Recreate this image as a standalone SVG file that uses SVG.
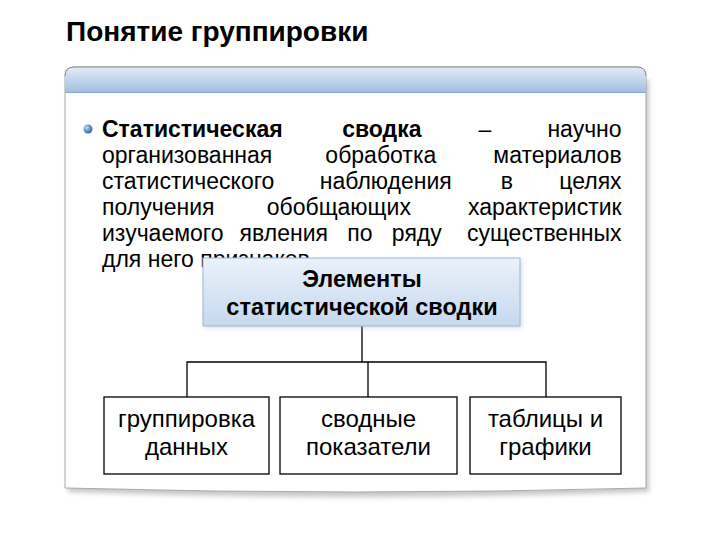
<svg xmlns="http://www.w3.org/2000/svg" width="720" height="540" viewBox="0 0 720 540">
<defs>
<linearGradient id="hdr" x1="0" y1="0" x2="0" y2="1">
<stop offset="0" stop-color="#e2ebf6"/>
<stop offset="0.6" stop-color="#bcd1ea"/>
<stop offset="1" stop-color="#a3bfe0"/>
</linearGradient>
<linearGradient id="boxfill" x1="0" y1="0" x2="0" y2="1">
<stop offset="0" stop-color="#eaf1fa"/>
<stop offset="1" stop-color="#c6d8ee"/>
</linearGradient>
<radialGradient id="ball" cx="0.35" cy="0.35" r="0.7">
<stop offset="0" stop-color="#c9dcf2"/>
<stop offset="0.5" stop-color="#6d98cc"/>
<stop offset="1" stop-color="#2f5f9c"/>
</radialGradient>
<filter id="blur" x="-5%" y="-5%" width="110%" height="120%">
<feGaussianBlur stdDeviation="2.5"/>
</filter>
<clipPath id="panelClip">
<path d="M65,76 Q65,67 74,67 L637,67 Q646,67 646,76 L646,488 Q355,496 65,488 Z"/>
</clipPath>
</defs>
<style>
.title{font-family:"Liberation Sans",Arial,sans-serif;font-weight:bold;font-size:28px;fill:#000}
.body{font-family:"Liberation Sans",Arial,sans-serif;font-size:23px;fill:#000}
.b{font-weight:bold}
.hd{font-family:"Liberation Sans",Arial,sans-serif;font-weight:bold;font-size:23.5px;fill:#000;text-anchor:middle}
.lbl{font-family:"Liberation Sans",Arial,sans-serif;font-size:24px;fill:#000;text-anchor:middle}
.m{text-anchor:middle}
.e{text-anchor:end}
.node{fill:#fff;stroke:#000;stroke-width:1.3}
.conn{fill:none;stroke:#000;stroke-width:1.3}
</style>
<rect width="720" height="540" fill="#fff"/>
<text class="title" x="66" y="41">Понятие группировки</text>

<g id="panel">
<path d="M68,80 L649,80 L649,492 Q357,502 68,492 Z" fill="#9a9a9a" opacity="0.55" filter="url(#blur)"/>
<path d="M65,76 Q65,67 74,67 L637,67 Q646,67 646,76 L646,488 Q355,496 65,488 Z" fill="#fff" stroke="#a8a8a8" stroke-width="1"/>
<rect x="65" y="67" width="581" height="25" fill="url(#hdr)" clip-path="url(#panelClip)"/>
<line x1="65" y1="92.5" x2="646" y2="92.5" stroke="#8aa7cc" stroke-width="1"/>
<path d="M65,76 Q65,67 74,67 L637,67 Q646,67 646,76" fill="none" stroke="#8a8a8a" stroke-width="1"/>
</g>

<g id="bullet-text">
<circle cx="88" cy="129" r="4.5" fill="url(#ball)"/>
<text class="body">
<tspan class="b" x="102" y="137">Статистическая</tspan>
<tspan class="b m" x="385" y="137">сводка</tspan>
<tspan class="m" x="488" y="137">–</tspan>
<tspan class="e" x="628" y="137">научно</tspan>
<tspan x="102" y="163">организованная</tspan>
<tspan class="m" x="384" y="163">обработка</tspan>
<tspan class="e" x="628" y="163">материалов</tspan>
<tspan x="102" y="189">статистического</tspan>
<tspan class="m" x="389" y="189">наблюдения</tspan>
<tspan class="m" x="510" y="189">в</tspan>
<tspan class="e" x="628" y="189">целях</tspan>
<tspan x="102" y="215">получения</tspan>
<tspan class="m" x="342" y="215">обобщающих</tspan>
<tspan class="e" x="628" y="215">характеристик</tspan>
<tspan x="102" y="241">изучаемого</tspan>
<tspan class="m" x="287" y="241">явления</tspan>
<tspan class="m" x="363" y="241">по</tspan>
<tspan class="m" x="420" y="241">ряду</tspan>
<tspan class="e" x="628" y="241">существенных</tspan>
<tspan x="102" y="267">для него признаков</tspan>
</text>
</g>

<g id="connectors">
<path class="conn" d="M362,326 V362 M187,397 V362 H546 V397 M368,362 V397"/>
</g>

<g id="elements">
<rect x="205" y="260" width="317" height="68" fill="#9aa8b8" opacity="0.4" filter="url(#blur)"/>
<rect x="203" y="258" width="317" height="68" fill="url(#boxfill)" stroke="#9db6d6" stroke-width="1"/>
<text class="hd" x="362" y="287">Элементы</text>
<text class="hd" x="362" y="315">статистической сводки</text>
</g>

<g id="grouping">
<rect class="node" x="104" y="397" width="165" height="77"/>
<text class="lbl" x="186.5" y="427">группировка</text>
<text class="lbl" x="186.5" y="455">данных</text>
</g>

<g id="summary">
<rect class="node" x="280" y="397" width="177" height="77"/>
<text class="lbl" x="368.5" y="427">сводные</text>
<text class="lbl" x="368.5" y="455">показатели</text>
</g>

<g id="tables">
<rect class="node" x="470" y="397" width="151" height="77"/>
<text class="lbl" x="545.5" y="427">таблицы и</text>
<text class="lbl" x="545.5" y="455">графики</text>
</g>
</svg>
